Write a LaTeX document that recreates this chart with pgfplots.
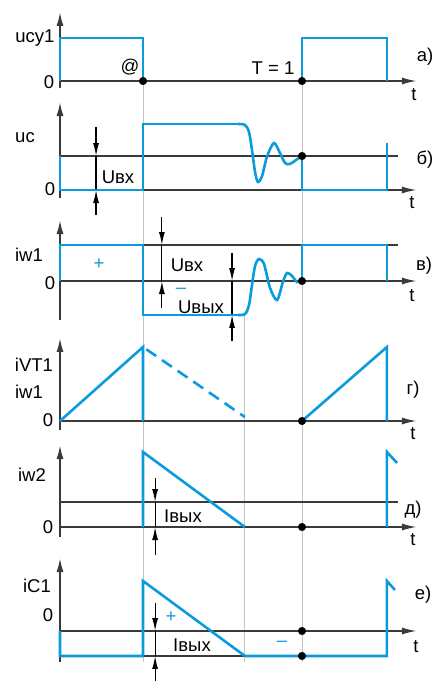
\documentclass[border=0pt]{standalone}
\usepackage{pgfplots}
\pgfplotsset{compat=1.18}
\usetikzlibrary{arrows.meta}
\usepackage{fontspec}
\setmainfont{Liberation Sans}
\definecolor{cblue}{HTML}{0A9BDC}
\definecolor{axc}{HTML}{3A3A3A}
\definecolor{guide}{HTML}{C4C4C4}
\newcommand\fs{\fontsize{18.5}{20}\selectfont}

% one panel per waveform, time in units of T (T = 1 -> 242pt)
\pgfplotsset{
  panel/.style={x=242pt, xmin=0, xmax=1.5, ymin=0, ymax=1, hide axis,
    clip=false, anchor=south west},
  yax/.style={draw=axc, line width=1.8pt, -{Latex[length=14pt,width=7pt]}},
  tax/.style={draw=axc, line width=1.8pt, -{Latex[length=15pt,width=7pt]}},
  ref/.style={draw=axc, line width=1.4pt},
  wv/.style={draw=cblue, line width=2.6pt},
  dim/.style={draw=black, line width=1.2pt},
  dimarr/.style={draw=black, line width=1.2pt, -{Latex[length=13pt,width=6pt]}},
  dot/.style={only marks, mark=*, mark size=3.8pt, mark options={fill=black, draw=black}},
  gl/.style={draw=guide, line width=1pt},
}

\begin{document}
\begin{tikzpicture}
\path[use as bounding box] (0,0) rectangle (434pt,-681pt);

% guide lines
\begin{axis}[panel, y=75pt, at={(60pt,-631pt)}]
\addplot[gl] coordinates {(0.343,7.333) (0.343,-0.413)};
\addplot[gl] coordinates {(1,7.333) (1,-0.413)};
\addplot[gl] coordinates {(0.764,4.213) (0.764,-0.413)};
\end{axis}

% a) ucy1
\begin{axis}[panel, y=43pt, at={(60pt,-81pt)}]
\addplot[yax] coordinates {(0,-0.163) (0,1.605)};
\addplot[tax] coordinates {(0,0) (1.475,0)};
\addplot[wv] coordinates {(0,0) (0,1) (0.343,1) (0.343,0)};
\addplot[wv] coordinates {(1,0) (1,1) (1.351,1) (1.351,0)};
\addplot[dot] coordinates {(0.343,0) (1,0)};
\end{axis}

% b) uc
\begin{axis}[panel, y=34pt, at={(60pt,-190pt)}]
\addplot[yax] coordinates {(0,-0.235) (0,2.588)};
\addplot[tax] coordinates {(0,0) (1.475,0)};
\addplot[ref] coordinates {(0,1) (1.397,1)};
\addplot[dim] coordinates {(0.149,0) (0.149,1)};
\addplot[dimarr] coordinates {(0.149,1.853) (0.149,1)};
\addplot[dimarr] coordinates {(0.149,-0.735) (0.149,0)};
\addplot[wv] coordinates {(0,1) (0,0) (0.343,0) (0.343,1.941) (0.7355,1.941)};
\addplot[wv, smooth] coordinates {(0.7355,1.941) (0.7645,1.912) (0.781,1.706)
  (0.7934,1.176) (0.806,0.529) (0.818,0.235) (0.835,0.412) (0.855,0.971)
  (0.884,1.382) (0.909,1.088) (0.930,0.794) (0.950,0.765) (0.975,0.882) (1,1)};
\addplot[wv] coordinates {(1,1) (1,0) (1.351,0) (1.351,1.382)};
\addplot[dot] coordinates {(1,1)};
\end{axis}

% c) iw1
\begin{axis}[panel, y=36pt, at={(60pt,-281pt)}]
\addplot[yax] coordinates {(0,-1.083) (0,1.694)};
\addplot[tax] coordinates {(0,0) (1.475,0)};
\addplot[ref] coordinates {(0,1) (1.397,1)};
\addplot[dim] coordinates {(0.421,1) (0.421,0)};
\addplot[dimarr] coordinates {(0.421,1.778) (0.421,1)};
\addplot[dimarr] coordinates {(0.421,-0.75) (0.421,0)};
\addplot[dim] coordinates {(0.711,0) (0.711,-0.944)};
\addplot[dimarr] coordinates {(0.711,0.778) (0.711,0)};
\addplot[dimarr] coordinates {(0.711,-1.667) (0.711,-0.944)};
\addplot[wv] coordinates {(0,0) (0,1) (0.343,1) (0.343,-0.944) (0.7355,-0.944)};
\addplot[wv, smooth] coordinates {(0.7355,-0.944) (0.7645,-0.917) (0.781,-0.667)
  (0.7934,-0.111) (0.806,0.417) (0.822,0.611) (0.843,0.472) (0.868,-0.194)
  (0.897,-0.528) (0.921,-0.028) (0.938,0.222) (0.959,0.139) (0.979,-0.028) (1,0)};
\addplot[wv] coordinates {(1,0) (1,1) (1.351,1) (1.351,0)};
\addplot[dot] coordinates {(1,0)};
\end{axis}

% d) iVT1, iw1
\begin{axis}[panel, y=74pt, at={(60pt,-421pt)}]
\addplot[yax] coordinates {(0,-0.122) (0,1.122)};
\addplot[tax] coordinates {(0,0) (1.475,0)};
\addplot[wv] coordinates {(0,0) (0.343,1) (0.343,0)};
\addplot[wv, dash pattern=on 12pt off 7pt, dash phase=15pt] coordinates {(0.343,1) (0.764,0.054)};
\addplot[wv] coordinates {(1,0) (1.351,1) (1.351,0)};
\addplot[dot] coordinates {(1,0)};
\end{axis}

% e) iw2
\begin{axis}[panel, y=75pt, at={(60pt,-527pt)}]
\addplot[yax] coordinates {(0,-0.133) (0,1.093)};
\addplot[tax] coordinates {(0,0) (1.475,0)};
\addplot[ref] coordinates {(0,0.333) (1.397,0.333)};
\addplot[dim] coordinates {(0.393,0.333) (0.393,0)};
\addplot[dimarr] coordinates {(0.393,0.653) (0.393,0.333)};
\addplot[dimarr] coordinates {(0.393,-0.373) (0.393,0)};
\addplot[wv] coordinates {(0.343,0) (0.343,1) (0.764,0)};
\addplot[wv] coordinates {(1.351,0) (1.351,1) (1.393,0.853)};
\addplot[dot] coordinates {(1,0)};
\end{axis}

% f) iC1
\begin{axis}[panel, y=75pt, at={(60pt,-631pt)}]
\addplot[yax] coordinates {(0,-0.413) (0,0.973)};
\addplot[tax] coordinates {(0,0) (1.475,0)};
\addplot[ref] coordinates {(0.343,-0.333) (0.764,-0.333)};
\addplot[dim] coordinates {(0.393,0) (0.393,-0.333)};
\addplot[dimarr] coordinates {(0.393,0.373) (0.393,0)};
\addplot[dimarr] coordinates {(0.393,-0.8) (0.393,-0.333)};
\addplot[wv] coordinates {(0,0) (0,-0.333) (0.343,-0.333) (0.343,0.667) (0.764,-0.333)
  (1.351,-0.333) (1.351,0.667) (1.384,0.547)};
\addplot[dot] coordinates {(1,0) (1,-0.333)};
\end{axis}

% labels
\begin{scope}[every node/.style={font=\fs, inner sep=0pt}]
\node at (35pt,-38pt) {ucy1};
\node at (49pt,-82pt) {0};
\node at (130pt,-67pt) {@};
\node at (273pt,-68pt) {T = 1};
\node at (425pt,-57pt) {а)};
\node at (414pt,-95pt) {t};

\node at (25pt,-138pt) {uc};
\node at (50pt,-189pt) {0};
\node at (118pt,-177pt) {Uвх};
\node at (425pt,-160pt) {б)};
\node at (412pt,-203pt) {t};

\node at (29pt,-255pt) {iw1};
\node at (50pt,-283pt) {0};
\node[text=cblue] at (99pt,-264pt) {+};
\node at (187pt,-265pt) {Uвх};
\node[text=cblue] at (181pt,-291pt) {–};
\node at (201pt,-307pt) {Uвых};
\node at (424pt,-266pt) {в)};
\node at (412pt,-296pt) {t};

\node at (34pt,-365pt) {iVT1};
\node at (29pt,-392pt) {iw1};
\node at (48pt,-420pt) {0};
\node at (413pt,-390pt) {г)};
\node at (413pt,-434pt) {t};

\node at (32pt,-475pt) {iw2};
\node at (48pt,-527pt) {0};
\node at (183pt,-516pt) {Iвых};
\node at (413pt,-510pt) {д)};
\node at (413pt,-540pt) {t};

\node at (37pt,-586pt) {iC1};
\node at (48pt,-615pt) {0};
\node[text=cblue] at (171pt,-617pt) {+};
\node[text=cblue] at (282pt,-644pt) {–};
\node at (192pt,-645pt) {Iвых};
\node at (423pt,-595pt) {е)};
\node at (416pt,-647pt) {t};
\end{scope}
\end{tikzpicture}
\end{document}
